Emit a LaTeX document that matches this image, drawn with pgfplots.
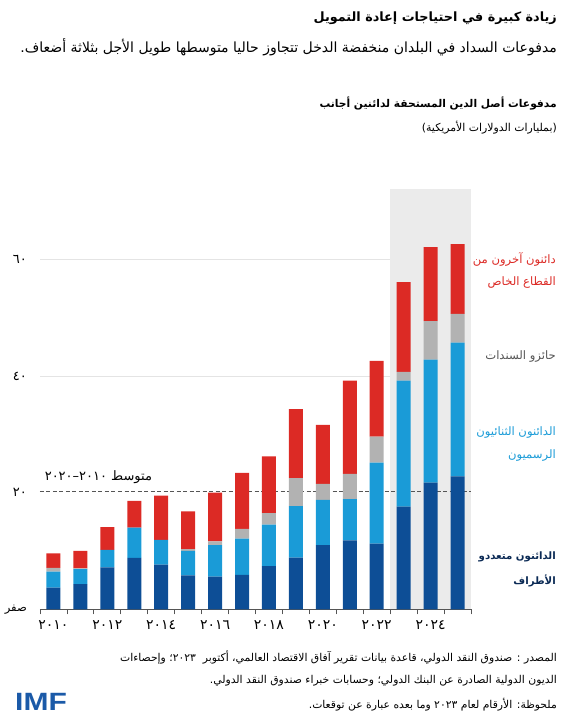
\documentclass[border=0pt]{standalone}
\usepackage{pgfplots}
\pgfplotsset{compat=1.18}
\usepackage{pgfplotstable}
\usetikzlibrary{backgrounds}
\usepackage{fontspec}
\setmainfont{DejaVu Sans}
\newfontfamily\ar[Script=Arabic]{DejaVu Sans}
\newfontfamily\logofont{Liberation Sans}
\TeXXeTstate=1

\definecolor{multi}{HTML}{0D4E96}
\definecolor{bilat}{HTML}{1A9BD7}
\definecolor{bonds}{HTML}{B2B2B2}
\definecolor{priv}{HTML}{DC2A25}
\definecolor{shadec}{HTML}{EBEBEB}
\definecolor{gridc}{HTML}{E4E4E4}
\definecolor{axisc}{HTML}{555555}
\definecolor{navytxt}{HTML}{0B2A55}
\definecolor{imfblue}{HTML}{1B5AA8}

% x: 0 = 2010 ... 15 = 2025
\pgfplotstableread{
x  multi light bonds priv
0  3.7   2.75  0.65  2.5
1  4.3   2.6   0.1   3.0
2  7.2   3.0   0.0   3.9
3  8.8   5.2   0.0   4.6
4  7.65  4.25  0.0   7.6
5  5.8   4.2   0.3   6.5
6  5.6   5.4   0.65  8.35
7  5.9   6.2   1.7   9.6
8  7.4   7.1   2.0   9.7
9  8.85  8.85  4.8   11.8
10 11.0  7.75  2.75  10.1
11 11.8  7.1   4.3   16.0
12 11.25 13.9  4.45  13.0
13 17.6  21.6  1.5   15.4
14 21.7  21.1  6.6   12.7
15 22.8  22.9  4.95  11.95
}\debt

\begin{document}
\begin{tikzpicture}[x=1pt,y=1pt]
\begin{axis}[
  scale only axis, width=431pt, height=420pt,
  xmin=-0.5, xmax=15.5, ymin=0, ymax=72,
  ybar stacked, bar width=14pt,
  axis x line*=bottom, axis y line*=left,
  y axis line style={draw=none},
  x axis line style={axisc, line width=0.8pt},
  tick align=outside,
  xtick={0,2,...,14},
  xticklabels={٢٠١٠,٢٠١٢,٢٠١٤,٢٠١٦,٢٠١٨,٢٠٢٠,٢٠٢٢,٢٠٢٤},
  minor xtick={-0.5,0.5,...,15.5},
  major tick length=0pt, minor tick length=5pt,
  minor x tick style={axisc, line width=0.8pt},
  ytick={0,20,40,60},
  yticklabels={{\fontsize{11.5}{12}\selectfont\beginR صفر\endR},٢٠,٤٠,٦٠},
  ytick style={draw=none},
  ticklabel style={font=\ar\fontsize{14}{14}\selectfont, inner sep=0pt},
  yticklabel style={font=\ar\fontsize{13}{13}\selectfont, anchor=east, xshift=-13pt},
  xticklabel style={anchor=base, yshift=-20pt},
  clip=false,
]
\addplot[fill=multi, draw=none] table[x=x, y=multi] {\debt};
\addplot[fill=bilat, draw=none] table[x=x, y=light] {\debt};
\addplot[fill=bonds, draw=none] table[x=x, y=bonds] {\debt};
\addplot[fill=priv, draw=none] table[x=x, y=priv] {\debt};

\draw[axisc, dash pattern=on 4pt off 2.5pt, line width=0.8pt] (axis cs:-0.5,20.2) -- (axis cs:15.5,20.2);
\node[anchor=west, inner sep=0pt, font=\ar\fontsize{13}{15}\selectfont]
  at (axis cs:-0.33,22.7) {\beginR متوسط \beginL٢٠١٠\endL–\beginL٢٠٢٠\endL\endR};
\coordinate (O) at (axis cs:-0.5,0);
\coordinate (G40a) at (axis cs:-0.5,40);
\coordinate (G40b) at (axis cs:12.5,40);
\coordinate (G60a) at (axis cs:-0.5,60);
\coordinate (G60b) at (axis cs:12.5,60);
\coordinate (S1) at (axis cs:12.5,0);
\coordinate (S2) at (axis cs:15.5,72);
\end{axis}

\begin{scope}[on background layer]
\draw[gridc, line width=0.8pt] (G40a) -- (G40b);
\draw[gridc, line width=0.8pt] (G60a) -- (G60b);
\fill[shadec] (S1) rectangle (S2);
\end{scope}

\pgfresetboundingbox
\begin{scope}[shift={(O)}]
\begin{scope}[xshift=-40pt, yshift=-116.7pt]
\useasboundingbox (0,0) rectangle (571,726);

% titles
\node[anchor=east, inner sep=0pt, font=\ar\bfseries\fontsize{12.8}{15}\selectfont]
  at (557,708) {\beginR زيادة كبيرة في احتياجات إعادة التمويل\endR};
\node[anchor=east, inner sep=0pt, font=\ar\fontsize{14}{16}\selectfont]
  at (557,679) {\beginR مدفوعات السداد في البلدان منخفضة الدخل تتجاوز حاليا متوسطها طويل الأجل بثلاثة أضعاف.\endR};
\node[anchor=east, inner sep=0pt, font=\ar\bfseries\fontsize{10.7}{13}\selectfont]
  at (557,623) {\beginR مدفوعات أصل الدين المستحقة لدائنين أجانب\endR};
\node[anchor=east, inner sep=0pt, font=\ar\fontsize{10.9}{13}\selectfont]
  at (557,598) {\beginR (بمليارات الدولارات الأمريكية)\endR};

% series labels
\begin{scope}[every node/.style={anchor=east, inner sep=0pt, font=\ar\fontsize{11.6}{13}\selectfont}]
\node[text=priv] at (556,467) {\beginR دائنون آخرون من\endR};
\node[text=priv] at (556,443) {\beginR القطاع الخاص\endR};
\node[text=axisc] at (556,369) {\beginR حائزو السندات\endR};
\node[text=bilat] at (556,293) {\beginR الدائنون الثنائيون\endR};
\node[text=bilat] at (556,270) {\beginR الرسميون\endR};
\node[text=navytxt, font=\ar\bfseries\fontsize{10.2}{13}\selectfont] at (556,169) {\beginR الدائنون متعددو\endR};
\node[text=navytxt, font=\ar\bfseries\fontsize{10.2}{13}\selectfont] at (556,145) {\beginR الأطراف\endR};
\end{scope}

% notes
\begin{scope}[every node/.style={anchor=east, inner sep=0pt, font=\ar\fontsize{10.8}{13}\selectfont}]
\node at (557,69) {\beginR المصدر : صندوق النقد الدولي، قاعدة بيانات تقرير آفاق الاقتصاد العالمي، أكتوبر \ \beginL٢٠٢٣\endL؛ وإحصاءات\endR};
\node at (557,45) {\beginR الديون الدولية الصادرة عن البنك الدولي؛ وحسابات خبراء صندوق النقد الدولي.\endR};
\node at (557,21) {\beginR ملحوظة: الأرقام لعام \beginL٢٠٢٣\endL{} وما بعده عبارة عن توقعات.\endR};
\end{scope}

\node[anchor=west, inner sep=0pt, text=imfblue, font=\logofont\bfseries\fontsize{25}{25}\selectfont, xscale=1.2]
  at (15,24) {IMF};
\end{scope}
\end{scope}
\end{tikzpicture}
\end{document}
